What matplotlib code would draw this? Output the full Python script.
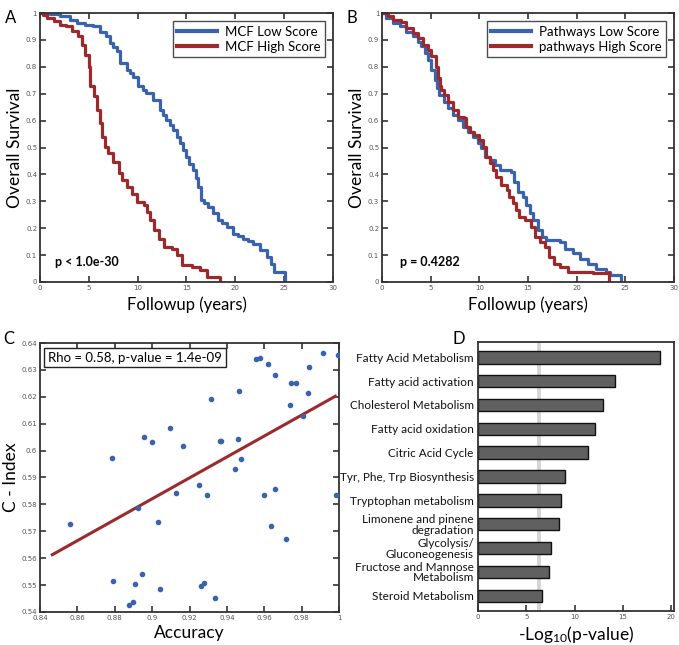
import numpy as np
import matplotlib
matplotlib.use("Agg")
from matplotlib import pyplot as plt

plt.rcParams['font.family'] = ['Lato', 'DejaVu Sans']
plt.rcParams['mathtext.default'] = 'regular'

BLUE = '#3b63ad'
RED = '#9c2a2c'
TICKFONT = dict(family='DejaVu Sans', size=5, color='#555555')

# panel A - MCF score survival curves
mcf_low_t = [0, 1.0, 2.0, 3.1, 3.75, 4.6, 5.45, 6.1, 6.8, 7.16, 7.5, 7.84, 8.2, 8.86, 9.2,
             9.55, 10.06, 10.5, 10.9, 11.6, 12.27, 12.6, 12.95, 13.3, 13.6, 14.0, 14.3, 14.6,
             15.0, 15.3, 15.7, 16.0, 16.2, 16.5, 16.8, 17.2, 17.7, 18.2, 18.6, 19.1, 19.8,
             20.3, 20.8, 21.3, 21.8, 22.5, 23.2, 23.7, 24.0, 25.1]
mcf_low_s = [1.0, 0.995, 0.99, 0.975, 0.963, 0.957, 0.95, 0.93, 0.913, 0.888, 0.872, 0.857,
             0.814, 0.789, 0.776, 0.764, 0.727, 0.714, 0.702, 0.677, 0.64, 0.622, 0.602,
             0.585, 0.565, 0.54, 0.516, 0.49, 0.466, 0.44, 0.416, 0.385, 0.354, 0.304, 0.292,
             0.28, 0.255, 0.23, 0.218, 0.205, 0.18, 0.17, 0.161, 0.152, 0.143, 0.118, 0.093,
             0.068, 0.037, 0.0]
mcf_high_t = [0, 0.34, 0.7, 1.4, 2.05, 2.7, 3.25, 3.94, 4.3, 4.6, 4.97, 5.1, 5.5, 5.8, 6.16,
              6.3, 6.68, 7.0, 7.5, 8.05, 8.4, 8.9, 9.4, 9.9, 10.6, 10.96, 11.3, 11.64, 12.16,
              12.67, 13.5, 14.0, 14.55, 15.6, 16.4, 17.1, 18.4]
mcf_high_s = [1.0, 0.994, 0.98, 0.97, 0.957, 0.95, 0.932, 0.913, 0.882, 0.845, 0.80, 0.727,
              0.69, 0.64, 0.59, 0.54, 0.503, 0.478, 0.447, 0.404, 0.379, 0.354, 0.329, 0.298,
              0.286, 0.26, 0.23, 0.193, 0.161, 0.13, 0.124, 0.10, 0.062, 0.056, 0.043, 0.019,
              0.0]

# panel B - pathway score survival curves
path_low_t = [0, 0.45, 1.13, 1.8, 2.5, 3.2, 3.7, 4.04, 4.4, 4.73, 5.07, 5.4, 5.6, 5.9, 6.4,
              6.8, 7.3, 7.8, 8.3, 8.8, 9.35, 9.86, 10.2, 10.55, 11.06, 11.6, 12.1, 13.3, 13.6,
              13.97, 14.5, 14.8, 15.2, 15.5, 16.0, 16.4, 16.9, 18.25, 18.8, 19.6, 20.3, 21.2,
              22.0, 23.05, 23.4, 24.6]
path_low_s = [1.0, 0.98, 0.963, 0.95, 0.93, 0.913, 0.894, 0.876, 0.85, 0.826, 0.789, 0.75,
              0.72, 0.696, 0.67, 0.646, 0.621, 0.602, 0.578, 0.559, 0.54, 0.516, 0.497, 0.466,
              0.453, 0.435, 0.416, 0.41, 0.373, 0.335, 0.317, 0.286, 0.255, 0.23, 0.193,
              0.168, 0.155, 0.149, 0.124, 0.106, 0.087, 0.068, 0.05, 0.037, 0.025, 0.0]
path_high_t = [0, 0.6, 1.13, 2.0, 2.5, 3.2, 3.7, 4.2, 4.7, 5.07, 5.5, 5.75, 5.95, 6.1, 6.4,
               6.8, 7.3, 7.8, 8.4, 8.6, 9.0, 9.5, 10.0, 10.4, 10.7, 11.06, 11.4, 11.75, 12.26,
               12.8, 13.1, 13.46, 13.8, 14.1, 14.66, 15.3, 15.7, 16.2, 16.7, 17.2, 17.7,
               18.25, 19.1, 21.7, 23.35]
path_high_s = [1.0, 0.988, 0.975, 0.965, 0.944, 0.925, 0.907, 0.882, 0.863, 0.839, 0.80,
               0.76, 0.73, 0.714, 0.696, 0.67, 0.64, 0.615, 0.609, 0.578, 0.559, 0.547,
               0.528, 0.503, 0.466, 0.441, 0.416, 0.391, 0.36, 0.342, 0.317, 0.292, 0.267,
               0.242, 0.23, 0.205, 0.168, 0.149, 0.13, 0.093, 0.068, 0.056, 0.037, 0.033,
               0.0]

# panel C - accuracy vs c-index
accuracy = [0.856, 0.8787, 0.8791, 0.8875, 0.890, 0.8927, 0.8948, 0.891, 0.8954, 0.900,
            0.9029, 0.9043, 0.9096, 0.913, 0.9163, 0.925, 0.9259, 0.9277, 0.9296, 0.9314,
            0.9336, 0.9363, 0.937, 0.9443, 0.9461, 0.9463, 0.9477, 0.9557, 0.9577, 0.960,
            0.962, 0.9638, 0.9655, 0.966, 0.9716, 0.974, 0.9745, 0.9768, 0.9805, 0.9832,
            0.9838, 0.9916, 0.9984, 0.9995]
cindex = [0.5728, 0.5971, 0.5516, 0.5426, 0.5438, 0.5787, 0.554, 0.5505, 0.6052, 0.6033,
          0.5733, 0.5484, 0.6085, 0.5841, 0.6017, 0.5873, 0.5495, 0.5508, 0.5836, 0.6192,
          0.5451, 0.6036, 0.6036, 0.5932, 0.6044, 0.6222, 0.597, 0.634, 0.6343, 0.5836,
          0.6323, 0.572, 0.628, 0.5858, 0.567, 0.617, 0.6251, 0.6251, 0.6129, 0.6213,
          0.6312, 0.6364, 0.5835, 0.6355]
fit_x = [0.8466, 0.998]
fit_y = [0.5613, 0.6202]

# panel D - pathway enrichment
pathways = ['Fatty Acid Metabolism', 'Fatty acid activation', 'Cholesterol Metabolism',
            'Fatty acid oxidation', 'Citric Acid Cycle', 'Tyr, Phe, Trp Biosynthesis',
            'Tryptophan metabolism', 'Limonene and pinene\ndegradation',
            'Glycolysis/\nGluconeogenesis', 'Fructose and Mannose\nMetabolism',
            'Steroid Metabolism']
neglogp = [18.85, 14.2, 12.98, 12.1, 11.38, 8.97, 8.62, 8.34, 7.57, 7.4, 6.67]
cutoff = 6.28


def matlab_box(ax, top=True, right=True):
    for s in ax.spines.values():
        s.set_linewidth(1.3)
        s.set_color('#333333')
    ax.tick_params(direction='in', length=4, width=1.2, color='#333333',
                   top=top, right=right, pad=2)
    for lab in ax.get_xticklabels() + ax.get_yticklabels():
        lab.set_fontfamily(TICKFONT['family'])
        lab.set_fontsize(TICKFONT['size'])
        lab.set_color(TICKFONT['color'])


def fmt(v):
    return '%g' % v


fig = plt.figure(figsize=(6.79, 6.45), dpi=100)

# ---- A and B
km = [
    ([0.0589, 0.5628, 0.4315, 0.417], 'A', (mcf_low_t, mcf_low_s), (mcf_high_t, mcf_high_s),
     ['MCF Low Score', 'MCF High Score'], 'p < 1.0e-30', 1.55),
    ([0.5626, 0.5628, 0.430, 0.417], 'B', (path_low_t, path_low_s), (path_high_t, path_high_s),
     ['Pathways Low Score', 'pathways High Score'], 'p = 0.4282', 1.85),
]
for pos, letter, low, high, names, ptext, px in km:
    ax = fig.add_axes(pos)
    ax.plot(low[0], low[1], drawstyle='steps-post', color=BLUE, lw=2.3, label=names[0])
    ax.plot(high[0], high[1], drawstyle='steps-post', color=RED, lw=2.3, label=names[1])
    ax.set_xlim(0, 30)
    ax.set_ylim(0, 1)
    ax.set_xticks(np.arange(0, 31, 5))
    ax.set_yticks(np.round(np.arange(0, 1.01, 0.1), 1))
    ax.set_xticklabels([fmt(v) for v in np.arange(0, 31, 5)])
    ax.set_yticklabels([fmt(v) for v in np.round(np.arange(0, 1.01, 0.1), 1)])
    matlab_box(ax)
    ax.set_xlabel('Followup (years)', fontsize=12, labelpad=4)
    ax.set_ylabel('Overall Survival', fontsize=12.5, labelpad=2)
    ax.text(px, 0.075, ptext, fontsize=9, fontweight='bold', va='center')
    leg = ax.legend(loc='upper right', fontsize=9.5, frameon=True, fancybox=False,
                    edgecolor='#222222', handlelength=3.0, borderaxespad=0.6,
                    labelspacing=0.25, handletextpad=0.6, borderpad=0.35)
    leg.get_frame().set_linewidth(1.0)
    for h in leg.get_lines():
        h.set_linewidth(3)
    fig.text(pos[0] - 0.052, 0.965, letter, fontsize=12)

# ---- C
axc = fig.add_axes([0.0589, 0.0512, 0.4404, 0.417])
axc.scatter(accuracy, cindex, s=9, color=BLUE, zorder=3, clip_on=True)
axc.plot(fit_x, fit_y, color=RED, lw=2.2)
axc.set_xlim(0.84, 1.0)
axc.set_ylim(0.54, 0.64)
xt = np.round(np.arange(0.84, 1.001, 0.02), 2)
yt = np.round(np.arange(0.54, 0.6401, 0.01), 2)
axc.set_xticks(xt)
axc.set_yticks(yt)
axc.set_xticklabels([fmt(v) for v in xt])
axc.set_yticklabels([fmt(v) for v in yt])
matlab_box(axc)
axc.set_xlabel('Accuracy', fontsize=12.5, labelpad=3)
axc.set_ylabel('C - Index', fontsize=12.5, labelpad=2)
axc.text(0.8445, 0.6346, 'Rho = 0.58, p-value = 1.4e-09', fontsize=9.5, va='center',
         bbox=dict(boxstyle='square,pad=0.3', fc='white', ec='#222222', lw=1.0))
fig.text(0.005, 0.467, 'C', fontsize=12)

# ---- D
axd = fig.add_axes([0.704, 0.0527, 0.2887, 0.417])
ypos = np.arange(len(pathways))
axd.axvspan(cutoff - 0.2, cutoff + 0.2, color='#d6d6d6', lw=0, zorder=0)
axd.barh(ypos, neglogp, height=0.52, color='#606060', edgecolor='#111111', lw=1.0, zorder=2)
axd.set_ylim(len(pathways) - 0.36, -0.64)
axd.set_xlim(0, 20.3)
axd.set_xticks([0, 5, 10, 15, 20])
axd.set_yticks(ypos)
axd.set_yticklabels(pathways)
matlab_box(axd, top=False, right=False)
axd.tick_params(axis='y', length=0, pad=3)
for lab in axd.get_yticklabels():
    lab.set_fontfamily(['Lato', 'DejaVu Sans'])
    lab.set_fontsize(8.5)
    lab.set_color('#111111')
    lab.set_linespacing(0.95)
axd.set_xlabel(r'-Log$_{10}$(p-value)', fontsize=12.5, labelpad=3)
fig.text(0.666, 0.467, 'D', fontsize=12)

fig.savefig('out.png', dpi=100)
